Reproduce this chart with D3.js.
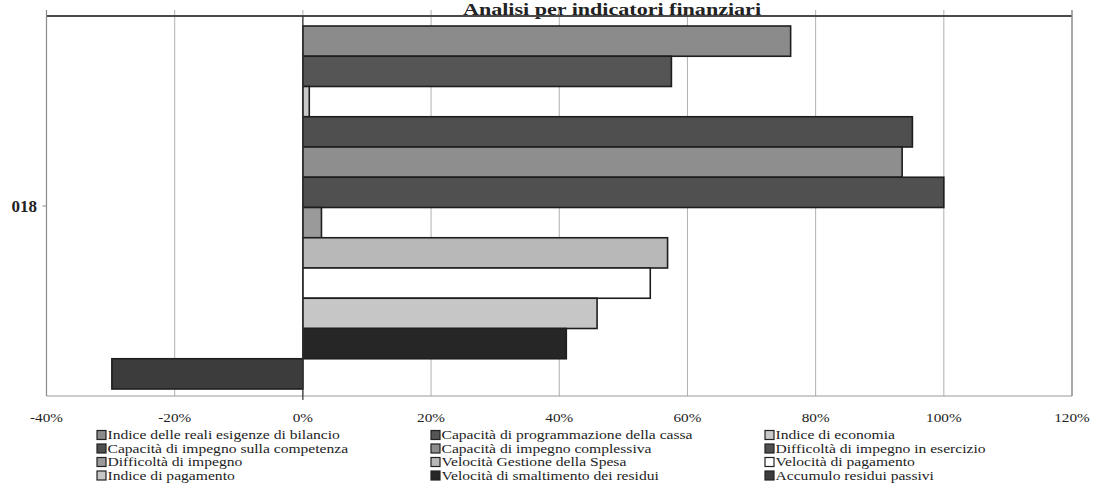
<!DOCTYPE html>
<html>
<head>
<meta charset="utf-8">
<script src="https://cdn.jsdelivr.net/npm/d3@7"></script>
<style>
  html, body { margin: 0; padding: 0; background: #fff; }
  svg { display: block; }
  text { font-family: "Liberation Serif", "Times New Roman", serif; fill: #222; }
</style>
</head>
<body>
<svg id="chart" width="1095" height="493"></svg>
<script>
// Category (year) and tick labels
const categories = ["018"];
const tickValues = [-0.4, -0.2, 0, 0.2, 0.4, 0.6, 0.8, 1.0, 1.2];

// Financial indicators, in legend order
const seriesNames = [
  "Indice delle reali esigenze di bilancio",
  "Capacità di programmazione della cassa",
  "Indice di economia",
  "Capacità di impegno sulla competenza",
  "Capacità di impegno complessiva",
  "Difficoltà di impegno in esercizio",
  "Difficoltà di impegno",
  "Velocità Gestione della Spesa",
  "Velocità di pagamento",
  "Indice di pagamento",
  "Velocità di smaltimento dei residui",
  "Accumulo residui passivi"
];
const seriesValues = [0.761, 0.575, 0.010, 0.951, 0.935, 1.000, 0.029, 0.569, 0.542, 0.459, 0.411, -0.298];
const seriesColors = ["#8b8b8b", "#555555", "#c9c9c9", "#4f4f4f", "#8e8e8e", "#505050",
                      "#9a9a9a", "#b8b8b8", "#ffffff", "#c6c6c6", "#262626", "#3c3c3c"];

const svg = d3.select("#chart");

// Horizontal text stretch used for all labels
function stretched(sel, x, y, sx) {
  return sel.attr("transform", `translate(${x},${y}) scale(${sx},1)`);
}

const plot = { left: 46.5, right: 1072, top: 16, bottom: 396 };

const x = d3.scaleLinear().domain([-0.4, 1.2]).range([plot.left, plot.right]);
const yCat = d3.scaleBand().domain(categories).range([plot.top, plot.bottom]);
const ySer = d3.scaleBand().domain(seriesNames).range([26, 389]);

// Title
stretched(svg.append("text"), 612, 14.5, 1.38)
  .attr("text-anchor", "middle")
  .attr("font-size", 16)
  .attr("font-weight", "bold")
  .text("Analisi per indicatori finanziari");

// Vertical gridlines
svg.append("g").selectAll("line").data(tickValues).join("line")
  .attr("x1", d => x(d)).attr("x2", d => x(d))
  .attr("y1", 10).attr("y2", plot.bottom)
  .attr("stroke", "#b0b0b0").attr("stroke-width", 1);

// Plot frame
svg.append("line").attr("x1", plot.left).attr("x2", plot.right)
  .attr("y1", plot.bottom).attr("y2", plot.bottom)
  .attr("stroke", "#9a9a9a").attr("stroke-width", 1.2);
svg.append("line").attr("x1", plot.left).attr("x2", plot.right)
  .attr("y1", plot.top).attr("y2", plot.top)
  .attr("stroke", "#4a4a4a").attr("stroke-width", 2);
[plot.left, plot.right].forEach(px => {
  svg.append("line").attr("x1", px).attr("x2", px)
    .attr("y1", 10).attr("y2", plot.bottom)
    .attr("stroke", "#8a8a8a").attr("stroke-width", 1.2);
});

// Category tick on the left edge
svg.append("line")
  .attr("x1", plot.left - 4).attr("x2", plot.left)
  .attr("y1", yCat(categories[0]) + yCat.bandwidth() / 2)
  .attr("y2", yCat(categories[0]) + yCat.bandwidth() / 2)
  .attr("stroke", "#888");

// Bars
svg.append("g").selectAll("rect").data(seriesNames).join("rect")
  .attr("x", (d, i) => x(Math.min(0, seriesValues[i])))
  .attr("y", d => ySer(d))
  .attr("width", (d, i) => Math.abs(x(seriesValues[i]) - x(0)))
  .attr("height", ySer.bandwidth())
  .attr("fill", (d, i) => seriesColors[i])
  .attr("stroke", "#1e1e1e").attr("stroke-width", 1.6);

// Zero axis
svg.append("line").attr("x1", x(0)).attr("x2", x(0))
  .attr("y1", plot.top).attr("y2", plot.bottom + 4)
  .attr("stroke", "#333").attr("stroke-width", 1.2);

// Category label
svg.append("text")
  .attr("x", 37).attr("y", yCat(categories[0]) + yCat.bandwidth() / 2 + 6)
  .attr("text-anchor", "end")
  .attr("font-size", 17)
  .attr("font-weight", "bold")
  .text(categories[0]);

// Value axis labels
svg.append("g").selectAll("text").data(tickValues).join("text")
  .each(function (d) { stretched(d3.select(this), x(d), 421.5, 1.22); })
  .attr("text-anchor", "middle")
  .attr("font-size", 12.5)
  .text(d => Math.round(d * 100) + "%");

// Legend: 3 columns, 4 rows, filled row by row
const legCols = [97, 431, 765];
const legRows = [435, 448.5, 462, 475.5];
const leg = svg.append("g").selectAll("g").data(seriesNames).join("g");
leg.append("rect")
  .attr("x", (d, i) => legCols[i % 3])
  .attr("y", (d, i) => legRows[Math.floor(i / 3)] - 4.5)
  .attr("width", 9).attr("height", 9)
  .attr("fill", (d, i) => seriesColors[i])
  .attr("stroke", "#222").attr("stroke-width", 1.2);
leg.append("text")
  .each(function (d, i) {
    stretched(d3.select(this), legCols[i % 3] + 10.5, legRows[Math.floor(i / 3)] + 4, 1.3);
  })
  .attr("font-size", 12)
  .text(d => d);
</script>
</body>
</html>
